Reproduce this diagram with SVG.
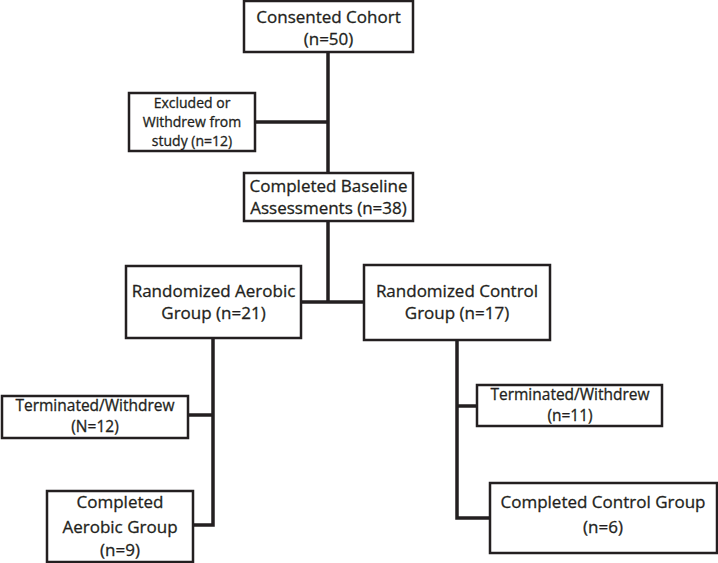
<svg xmlns="http://www.w3.org/2000/svg" width="718" height="563" viewBox="0 0 718 563">
<style>
.box{fill:#fff;stroke:#231f20;stroke-width:2.5}
.ln{stroke:#231f20;stroke-width:3.5;fill:none}
text{font-family:"Open Sans","Noto Sans","DejaVu Sans",sans-serif;fill:#231f20;stroke:#231f20;stroke-width:0.3;text-anchor:middle}
.big{font-size:17px}
.mid{font-size:15.5px}
.sm{font-size:14px}
</style>
<rect width="718" height="563" fill="#fff"/>
<g id="connectors">
<path class="ln" d="M328,52 V173"/>
<path class="ln" d="M255,122 H328"/>
<path class="ln" d="M328,221 V302"/>
<path class="ln" d="M301,302 H364"/>
<path class="ln" d="M213,338 V525 H193"/>
<path class="ln" d="M188,415 H213"/>
<path class="ln" d="M457,340 V518 H490"/>
<path class="ln" d="M457,406 H477"/>
</g>
<g id="consented">
<rect class="box" x="244" y="1" width="169" height="51"/>
<text class="big" x="328.5" y="23">Consented Cohort</text>
<text class="big" x="328.5" y="45">(n=50)</text>
</g>
<g id="excluded">
<rect class="box" x="129" y="93" width="126" height="58"/>
<text class="sm" x="192" y="108">Excluded or</text>
<text class="sm" x="192" y="127">Withdrew from</text>
<text class="sm" x="192" y="146">study (n=12)</text>
</g>
<g id="baseline">
<rect class="box" x="244" y="173" width="169" height="48"/>
<text class="big" x="328.5" y="192">Completed Baseline</text>
<text class="big" x="328.5" y="214">Assessments (n=38)</text>
</g>
<g id="aerobic">
<rect class="box" x="126" y="266" width="175" height="72"/>
<text class="big" x="213.5" y="297">Randomized Aerobic</text>
<text class="big" x="213.5" y="319">Group (n=21)</text>
</g>
<g id="control">
<rect class="box" x="364" y="265" width="186" height="75"/>
<text class="big" x="457" y="297">Randomized Control</text>
<text class="big" x="457" y="319">Group (n=17)</text>
</g>
<g id="term-aerobic">
<rect class="box" x="2" y="396" width="186" height="42"/>
<text class="mid" x="95" y="411">Terminated/Withdrew</text>
<text class="mid" x="95" y="432">(N=12)</text>
</g>
<g id="completed-aerobic">
<rect class="box" x="47" y="491" width="146" height="71"/>
<text class="big" x="120" y="508">Completed</text>
<text class="big" x="120" y="533">Aerobic Group</text>
<text class="big" x="120" y="556">(n=9)</text>
</g>
<g id="term-control">
<rect class="box" x="477" y="385" width="185" height="41"/>
<text class="mid" x="570" y="400">Terminated/Withdrew</text>
<text class="mid" x="570" y="421">(n=11)</text>
</g>
<g id="completed-control">
<rect class="box" x="490" y="483" width="227" height="70"/>
<text class="big" x="603" y="508">Completed Control Group</text>
<text class="big" x="603" y="533">(n=6)</text>
</g>
</svg>
